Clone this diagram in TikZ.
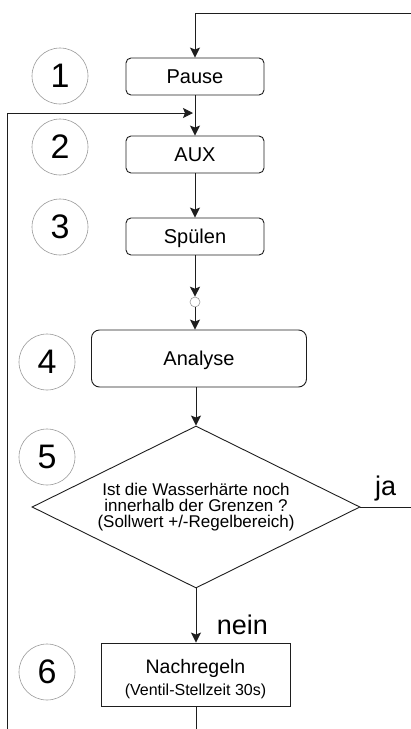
\documentclass[tikz,border=0pt]{standalone}
\usepackage{fontspec}
\setmainfont{Liberation Sans}
\usepackage{xcolor}
\definecolor{edge}{HTML}{1E1E1E}
\definecolor{ring}{HTML}{9A9A9A}
\usepackage{tikz}
\usetikzlibrary{arrows.meta,shapes.geometric}

\begin{document}
\begin{tikzpicture}[x=1pt,y=-1pt,
        stepbox/.style={draw=edge,line width=0.9pt,rounded corners=5pt,minimum width=138pt,minimum height=37pt,inner sep=0pt,text height=13.5pt,text depth=0pt,font=\fontsize{20}{22}\selectfont},
        numring/.style={draw=ring,line width=0.6pt,circle,minimum size=56pt,inner sep=0pt,font=\fontsize{34}{34}\selectfont},
        flow/.style={draw=edge,line width=1pt,-{Stealth[length=10pt,width=10pt,inset=2pt]}},
        wire/.style={draw=edge,line width=1pt},
        answer/.style={font=\fontsize{27}{27}\selectfont}]
        \useasboundingbox (0,0) rectangle (411,729);

        % process steps
        \node[stepbox] (pause) at (195,76.5) {Pause};
        \node[stepbox] (aux) at (195,154.5) {AUX};
        \node[stepbox] (spuelen) at (195,236.5) {Spülen};
        \node[draw=ring,line width=0.6pt,circle,minimum size=10pt,inner sep=0pt] (junction) at (195,302) {};
        \node[stepbox,rounded corners=8pt,minimum width=215pt,minimum height=57pt] (analyse) at (199,358.5) {Analyse};
        \node[diamond,draw=edge,line width=0.9pt,aspect=2,minimum width=328pt,minimum height=162pt,inner sep=0pt,align=center,font=\fontsize{17}{15.7}\selectfont] (check) at (196,507) {Ist die Wasserhärte noch\\innerhalb der Grenzen ?\\(Sollwert +/-Regelbereich)};
        \node[draw=edge,line width=0.9pt,minimum width=189pt,minimum height=63pt,inner sep=0pt] (nachregeln) at (195.5,674.5) {};
        \node[inner sep=0pt,font=\fontsize{19.5}{20}\selectfont,text height=14pt,text depth=0pt] (nachtitel) at (195.5,666.5) {Nachregeln};
        \node[inner sep=0pt,font=\fontsize{16}{16}\selectfont,text height=12pt,text depth=0pt] (nachzeit) at (195.5,689) {(Ventil-Stellzeit 30s)};

        % step numbers
        \node[numring] (n1) at (60,76) {1};
        \node[numring] (n2) at (60,147) {2};
        \node[numring] (n3) at (60,227) {3};
        \node[numring] (n4) at (47,362) {4};
        \node[numring] (n5) at (47,457) {5};
        \node[numring] (n6) at (47,672) {6};

        % loose ends at the page border
        \coordinate (topright) at (411,13);
        \coordinate (jaend) at (411,507);
        \coordinate (leftfoot) at (7,729);
        \coordinate (feedin) at (193,113);
        \coordinate (bottomend) at (196,729);

        \draw[flow] (topright) -| (pause.north);
        \draw[flow] (pause.south) -- (aux.north);
        \draw[flow] (leftfoot) |- (feedin);
        \draw[flow] (aux.south) -- (spuelen.north);
        \draw[flow] (spuelen.south) -- (junction.north);
        \draw[flow] (junction.south) -- (junction.south |- analyse.north);
        \draw[flow] (analyse.south -| check.north) -- (check.north);
        \draw[wire] (check.east) -- (jaend) node[answer,pos=0.5,above=2pt] (ja) {ja};
        \draw[flow] (check.south) -- (check.south |- nachregeln.north) node[answer,pos=0.67,right=17pt] (nein) {nein};
        \draw[wire] (nachregeln.south -| bottomend) -- (bottomend);
\end{tikzpicture}
\end{document}
